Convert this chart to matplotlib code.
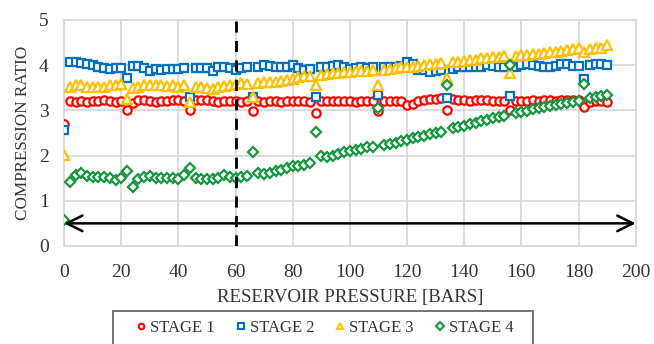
import numpy as np
import matplotlib.pyplot as plt
from matplotlib.lines import Line2D
from matplotlib.patches import Rectangle

plt.rcParams['font.family'] = ['Liberation Serif', 'DejaVu Serif']

# reservoir pressure samples [bar]
pressure = [0, 2, 4, 6, 8, 10, 12, 14, 16, 18,
            20, 22, 24, 26, 28, 30, 32, 34, 36, 38,
            40, 42, 44, 46, 48, 50, 52, 54, 56, 58,
            60, 62, 64, 66, 68, 70, 72, 74, 76, 78,
            80, 82, 84, 86, 88, 90, 92, 94, 96, 98,
            100, 102, 104, 106, 108, 110, 112, 114, 116, 118,
            120, 122, 124, 126, 128, 130, 132, 134, 136, 138,
            140, 142, 144, 146, 148, 150, 152, 154, 156, 158,
            160, 162, 164, 166, 168, 170, 172, 174, 176, 178,
            180, 182, 184, 186, 188, 190]

stage1 = [2.70, 3.20, 3.19, 3.20, 3.18, 3.20, 3.21, 3.22, 3.20, 3.19,
          3.20, 3.00, 3.17, 3.22, 3.24, 3.20, 3.19, 3.21, 3.20, 3.22,
          3.24, 3.20, 3.00, 3.22, 3.24, 3.22, 3.20, 3.19, 3.20, 3.21,
          3.20, 3.19, 3.20, 2.98, 3.20, 3.19, 3.21, 3.20, 3.19, 3.20,
          3.20, 3.21, 3.20, 3.19, 2.95, 3.20, 3.21, 3.20, 3.20, 3.20,
          3.20, 3.19, 3.20, 3.20, 3.20, 2.98, 3.20, 3.20, 3.20, 3.20,
          3.12, 3.14, 3.20, 3.22, 3.26, 3.25, 3.27, 3.00, 3.26, 3.24,
          3.22, 3.21, 3.22, 3.22, 3.22, 3.21, 3.20, 3.21, 3.00, 3.20,
          3.20, 3.21, 3.22, 3.21, 3.23, 3.22, 3.21, 3.22, 3.24, 3.24,
          3.22, 3.08, 3.18, 3.20, 3.20, 3.18]

stage2 = [2.57, 4.07, 4.07, 4.05, 4.02, 4.00, 3.95, 3.93, 3.92, 3.93,
          3.93, 3.72, 3.98, 3.98, 3.93, 3.88, 3.92, 3.90, 3.92, 3.92,
          3.92, 3.93, 3.29, 3.93, 3.93, 3.93, 3.88, 3.95, 3.97, 3.93,
          3.90, 3.93, 3.95, 3.30, 3.97, 4.00, 3.98, 3.95, 3.95, 3.97,
          4.00, 3.93, 3.90, 3.92, 3.30, 3.95, 3.95, 3.98, 4.00, 3.97,
          3.92, 3.94, 3.95, 3.93, 3.95, 3.35, 3.95, 3.95, 3.97, 3.98,
          4.07, 4.03, 3.90, 3.90, 3.85, 3.88, 3.90, 3.27, 3.92, 3.95,
          3.97, 3.97, 3.95, 3.97, 4.00, 3.98, 3.95, 3.97, 3.32, 3.97,
          4.00, 4.02, 4.00, 3.98, 3.97, 3.97, 3.98, 4.03, 4.02, 3.98,
          3.98, 3.70, 4.00, 4.03, 4.02, 4.00]

stage3 = [2.02, 3.52, 3.55, 3.55, 3.52, 3.52, 3.52, 3.52, 3.55, 3.57,
          3.58, 3.25, 3.50, 3.52, 3.55, 3.55, 3.55, 3.55, 3.53, 3.55,
          3.52, 3.55, 3.18, 3.52, 3.52, 3.50, 3.48, 3.52, 3.53, 3.55,
          3.58, 3.60, 3.58, 3.30, 3.60, 3.62, 3.63, 3.63, 3.65, 3.67,
          3.70, 3.73, 3.75, 3.75, 3.55, 3.78, 3.80, 3.82, 3.83, 3.84,
          3.85, 3.87, 3.88, 3.88, 3.90, 3.56, 3.90, 3.92, 3.93, 3.95,
          3.96, 3.97, 3.98, 4.00, 4.02, 4.03, 4.05, 3.71, 4.07, 4.08,
          4.10, 4.12, 4.12, 4.15, 4.15, 4.17, 4.18, 4.20, 3.82, 4.20,
          4.22, 4.23, 4.25, 4.25, 4.27, 4.28, 4.30, 4.32, 4.33, 4.35,
          4.37, 4.30, 4.35, 4.38, 4.38, 4.45]

stage4 = [0.58, 1.42, 1.58, 1.62, 1.55, 1.52, 1.52, 1.52, 1.50, 1.45,
          1.50, 1.65, 1.30, 1.48, 1.52, 1.55, 1.50, 1.50, 1.50, 1.50,
          1.48, 1.58, 1.72, 1.50, 1.48, 1.48, 1.48, 1.50, 1.58, 1.52,
          1.50, 1.52, 1.55, 2.08, 1.62, 1.60, 1.62, 1.65, 1.68, 1.72,
          1.77, 1.78, 1.80, 1.83, 2.52, 1.98, 1.96, 2.00, 2.04, 2.07,
          2.10, 2.12, 2.15, 2.18, 2.20, 3.05, 2.23, 2.26, 2.28, 2.32,
          2.35, 2.38, 2.41, 2.44, 2.47, 2.50, 2.53, 3.55, 2.60, 2.63,
          2.66, 2.70, 2.73, 2.76, 2.79, 2.82, 2.85, 2.88, 4.00, 2.95,
          2.97, 2.99, 3.02, 3.05, 3.07, 3.10, 3.12, 3.15, 3.17, 3.19,
          3.21, 3.58, 3.28, 3.30, 3.32, 3.34]

series = [
    ('STAGE 1', stage1, 'o', '#ff0000'),
    ('STAGE 2', stage2, 's', '#0070c0'),
    ('STAGE 3', stage3, '^', '#ffc000'),
    ('STAGE 4', stage4, 'D', '#16963f'),
]
marker_size = {'o': 6, 's': 6, '^': 6.8, 'D': 4.7}

fig = plt.figure(figsize=(6.54, 3.44), dpi=100)
ax = fig.add_axes([0.098, 0.285, 0.874, 0.657])

for name, vals, mk, col in series:
    ax.plot(pressure, vals, linestyle='none', marker=mk, ms=marker_size[mk],
            mfc='white', mec=col, mew=1.6, label=name, zorder=3)

# operating window boundary and pressure range arrow
ax.axvline(60, color='black', lw=2, ls=(0, (4, 3)), zorder=4)
ax.annotate('', xy=(0, 0.5), xytext=(200, 0.5),
            arrowprops=dict(arrowstyle='<->', color='black', lw=1.8,
                            mutation_scale=28, shrinkA=0, shrinkB=0),
            zorder=4)

ax.set_xlim(0, 200)
ax.set_ylim(0, 5)
ax.set_xticks(np.arange(0, 201, 20))
ax.set_yticks(np.arange(0, 6, 1))
ax.grid(True, color='#d9d9d9', lw=1.3)
ax.set_axisbelow(True)
for sp in ax.spines.values():
    sp.set_color('#d9d9d9')
    sp.set_linewidth(1.3)
ax.tick_params(length=0, labelsize=14, colors='#333333')
ax.tick_params(axis='x', pad=13)
ax.tick_params(axis='y', pad=11)

ax.set_xlabel('RESERVOIR PRESSURE [BARS]', fontsize=13.5, color='#333333', labelpad=5.5)
ax.set_ylabel('COMPRESSION RATIO', fontsize=12.3, color='#333333', labelpad=6)

# legend row below the plot, framed box runs off the bottom edge
handles = [Line2D([], [], ls='none', marker=mk, ms=4, mfc='white', mec=col, mew=1.5)
           for _, _, mk, col in series]
leg = fig.legend(handles, [s[0] for s in series], loc='center',
                 bbox_to_anchor=(0.497, 0.047), ncol=4, frameon=False,
                 fontsize=12, handlelength=0.5, handletextpad=0.3, columnspacing=1.3,
                 borderpad=0, borderaxespad=0)
for t in leg.get_texts():
    t.set_color('#333333')
fig.patches.append(Rectangle((113 / 654, -0.05), 420 / 654, 0.05 + 33 / 344,
                             transform=fig.transFigure, fill=False,
                             edgecolor='#666666', lw=1.3, clip_on=False))

fig.savefig('out.png', dpi=100)
